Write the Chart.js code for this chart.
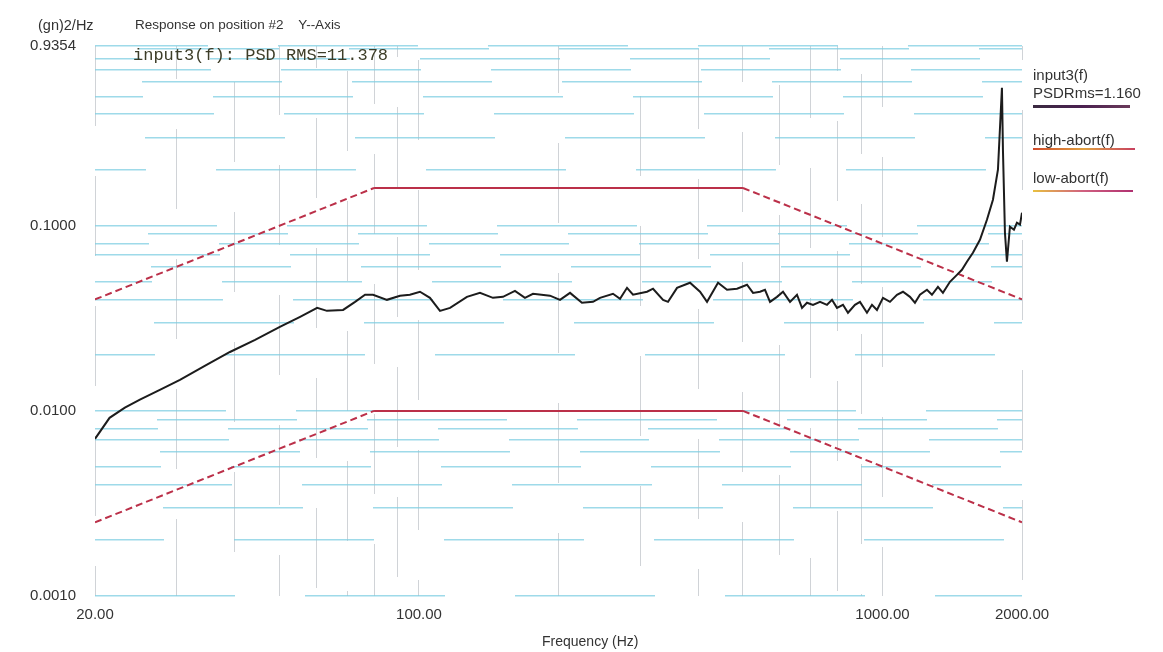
<!DOCTYPE html>
<html><head><meta charset="utf-8">
<script src="https://cdn.jsdelivr.net/npm/chart.js@4/dist/chart.umd.min.js"></script>
<style>
html,body{margin:0;padding:0;background:#fff;}
#wrap{position:relative;width:1163px;height:652px;overflow:hidden;background:#fff;}
#c{position:absolute;left:0;top:0;}
.t{position:absolute;white-space:pre;font-family:"Liberation Sans",Arial,sans-serif;color:#333;line-height:1;}
.u{position:absolute;height:2px;}
</style></head><body>
<div id="wrap">
<canvas id="c" width="1163" height="652"></canvas>
<div class="t" style="left:38px;top:18px;font-size:14.5px">(gn)2/Hz</div>
<div class="t" style="left:135px;top:18px;font-size:13.5px">Response on position #2    Y--Axis</div>
<div class="t" style="left:133px;top:47px;font-family:'Liberation Mono',monospace;font-size:17px;color:#3d3d28">input3(f): PSD RMS=11.378</div>
<div class="t" style="left:1033px;top:67px;font-size:15px">input3(f)</div>
<div class="t" style="left:1033px;top:85px;font-size:15px">PSDRms=1.160</div>
<div class="u" style="left:1033px;top:105px;width:97px;height:3px;background:linear-gradient(90deg,#3a2a40,#4a2050,#6a3a5a)"></div>
<div class="t" style="left:1033px;top:132px;font-size:15px">high-abort(f)</div>
<div class="u" style="left:1033px;top:148px;width:102px;background:linear-gradient(90deg,#d04a2a,#e0a040,#c84060)"></div>
<div class="t" style="left:1033px;top:170px;font-size:15px">low-abort(f)</div>
<div class="u" style="left:1033px;top:190px;width:100px;background:linear-gradient(90deg,#e8c040,#d06080,#b03070)"></div>
<div class="t" style="left:542px;top:634px;font-size:14px">Frequency (Hz)</div>
</div>
<script>
// ---- data ----
const psdFreq = [20,21.5,23.2,25.0,27.6,30.5,34.5,39.1,44.3,50.1,55.4,60.3,63.3,68.6,72.8,76.5,79.6,85.3,91.0,95.6,100.5,105.6,111.0,116.7,126.9,135.4,144.4,151.8,161.1,169.3,176.2,191.7,201.5,211.8,224.7,237.4,245.8,262.2,271.5,281.1,289.6,310.5,319.9,336.2,344.6,360.4,384.4,404.0,418.3,441.8,461.9,485.5,510.2,525.7,544.3,557.9,572.0,592.2,610.1,631.7,654.0,670.5,687.3,708.1,733.2,759.1,778.2,797.7,821.9,842.5,872.3,894.3,925.9,949.2,973.0,1002.5,1037.9,1074.7,1107.2,1146.3,1175.1,1204.6,1247.3,1278.6,1317.3,1350.4,1398.2,1447.7,1484.0,1521.3,1567.4,1622.9,1680.3,1731.2,1774.7,1810.3,1819.3,1837.5,1855.8,1883.6,1921.5,1950.3,1980.2,2000];
const psdValue = [0.00706,0.00917,0.0104,0.0115,0.0130,0.0147,0.0175,0.0208,0.0242,0.0284,0.0322,0.0360,0.0347,0.0351,0.0388,0.0424,0.0424,0.0398,0.0419,0.0424,0.0440,0.0408,0.0347,0.0360,0.0413,0.0434,0.0408,0.0413,0.0445,0.0408,0.0429,0.0419,0.0398,0.0434,0.0384,0.0388,0.0408,0.0429,0.0403,0.0462,0.0424,0.0440,0.0457,0.0398,0.0388,0.0462,0.0492,0.0440,0.0388,0.0492,0.0451,0.0457,0.0480,0.0434,0.0440,0.0451,0.0388,0.0413,0.0440,0.0388,0.0424,0.0360,0.0384,0.0374,0.0388,0.0374,0.0398,0.0360,0.0374,0.0339,0.0374,0.0388,0.0339,0.0374,0.0351,0.0408,0.0388,0.0424,0.0440,0.0413,0.0384,0.0424,0.0451,0.0424,0.0468,0.0434,0.0498,0.0543,0.0578,0.0639,0.0715,0.0840,0.1077,0.1382,0.2008,0.557,0.2575,0.0917,0.0639,0.0988,0.0952,0.1038,0.1013,0.1176];
const abortFreq = [20, 80, 500, 2000];
const highAbort = [0.04, 0.16, 0.16, 0.04];
const lowAbort = [0.0025, 0.01, 0.01, 0.0025];
const xGridValues = [20,30,40,50,60,70,80,90,100,200,300,400,500,600,700,800,900,1000,2000];
const xLabelValues = [20, 100, 1000, 2000];
const xLabelTexts = ['20.00', '100.00', '1000.00', '2000.00'];
const yGridValues = [0.001,0.002,0.003,0.004,0.005,0.006,0.007,0.008,0.009,0.01,0.02,0.03,0.04,0.05,0.06,0.07,0.08,0.09,0.1,0.2,0.3,0.4,0.5,0.6,0.7,0.8,0.9,0.9354];
const yLabelValues = [0.001, 0.01, 0.1, 0.9354];
const yLabelTexts = ['0.0010', '0.0100', '0.1000', '0.9354'];

function labelFor(v, vals, texts) {
  for (let i = 0; i < vals.length; i++) {
    if (Math.abs(v - vals[i]) / vals[i] < 1e-6) return texts[i];
  }
  return '';
}
const pts = (xs, ys) => xs.map((x, i) => ({x: x, y: ys[i]}));
const rampDash = ctx => (ctx.p0.parsed.y === ctx.p1.parsed.y ? [] : [7, 4]);
const tickFont = {family: '"Liberation Sans", Arial, sans-serif', size: 15};

new Chart(document.getElementById('c'), {
  type: 'line',
  data: {
    datasets: [
      {label: 'input3(f)', data: pts(psdFreq, psdValue), borderColor: '#1c1c1c', borderWidth: 2,
       pointRadius: 0, tension: 0, order: 1},
      {label: 'high-abort(f)', data: pts(abortFreq, highAbort), borderColor: '#bb3049', borderWidth: 2,
       pointRadius: 0, segment: {borderDash: rampDash}, order: 2},
      {label: 'low-abort(f)', data: pts(abortFreq, lowAbort), borderColor: '#bb3049', borderWidth: 2,
       pointRadius: 0, segment: {borderDash: rampDash}, order: 3}
    ]
  },
  options: {
    responsive: false,
    animation: false,
    devicePixelRatio: 1,
    layout: {padding: {left: 0, right: 141, top: 46, bottom: 0}},
    plugins: {legend: {display: false}, tooltip: {enabled: false}, title: {display: false}},
    scales: {
      x: {
        type: 'logarithmic', min: 20, max: 2000,
        afterBuildTicks: s => { s.ticks = xGridValues.map(v => ({value: v})); },
        afterFit: s => { s.height = 56; },
        ticks: {autoSkip: false, maxRotation: 0, padding: 10, color: '#333', font: tickFont,
                callback: v => labelFor(v, xLabelValues, xLabelTexts)},
        grid: {color: 'rgba(120,130,140,0.35)', lineWidth: 1, drawTicks: false},
        border: {display: false, dash: [80, 50], dashOffset: ctx => (ctx.index * 47) % 130}
      },
      y: {
        type: 'logarithmic', min: 0.001, max: 0.9354,
        afterBuildTicks: s => { s.ticks = yGridValues.map(v => ({value: v})); },
        afterFit: s => { s.width = 95; },
        ticks: {autoSkip: false, padding: 19, color: '#333', font: tickFont,
                callback: v => labelFor(v, yLabelValues, yLabelTexts)},
        grid: {color: 'rgba(125,205,225,0.75)', lineWidth: 1.6, drawTicks: false},
        border: {display: false, dash: [140, 70], dashOffset: ctx => (ctx.index * 71) % 210}
      }
    }
  }
});
</script>
</body></html>
